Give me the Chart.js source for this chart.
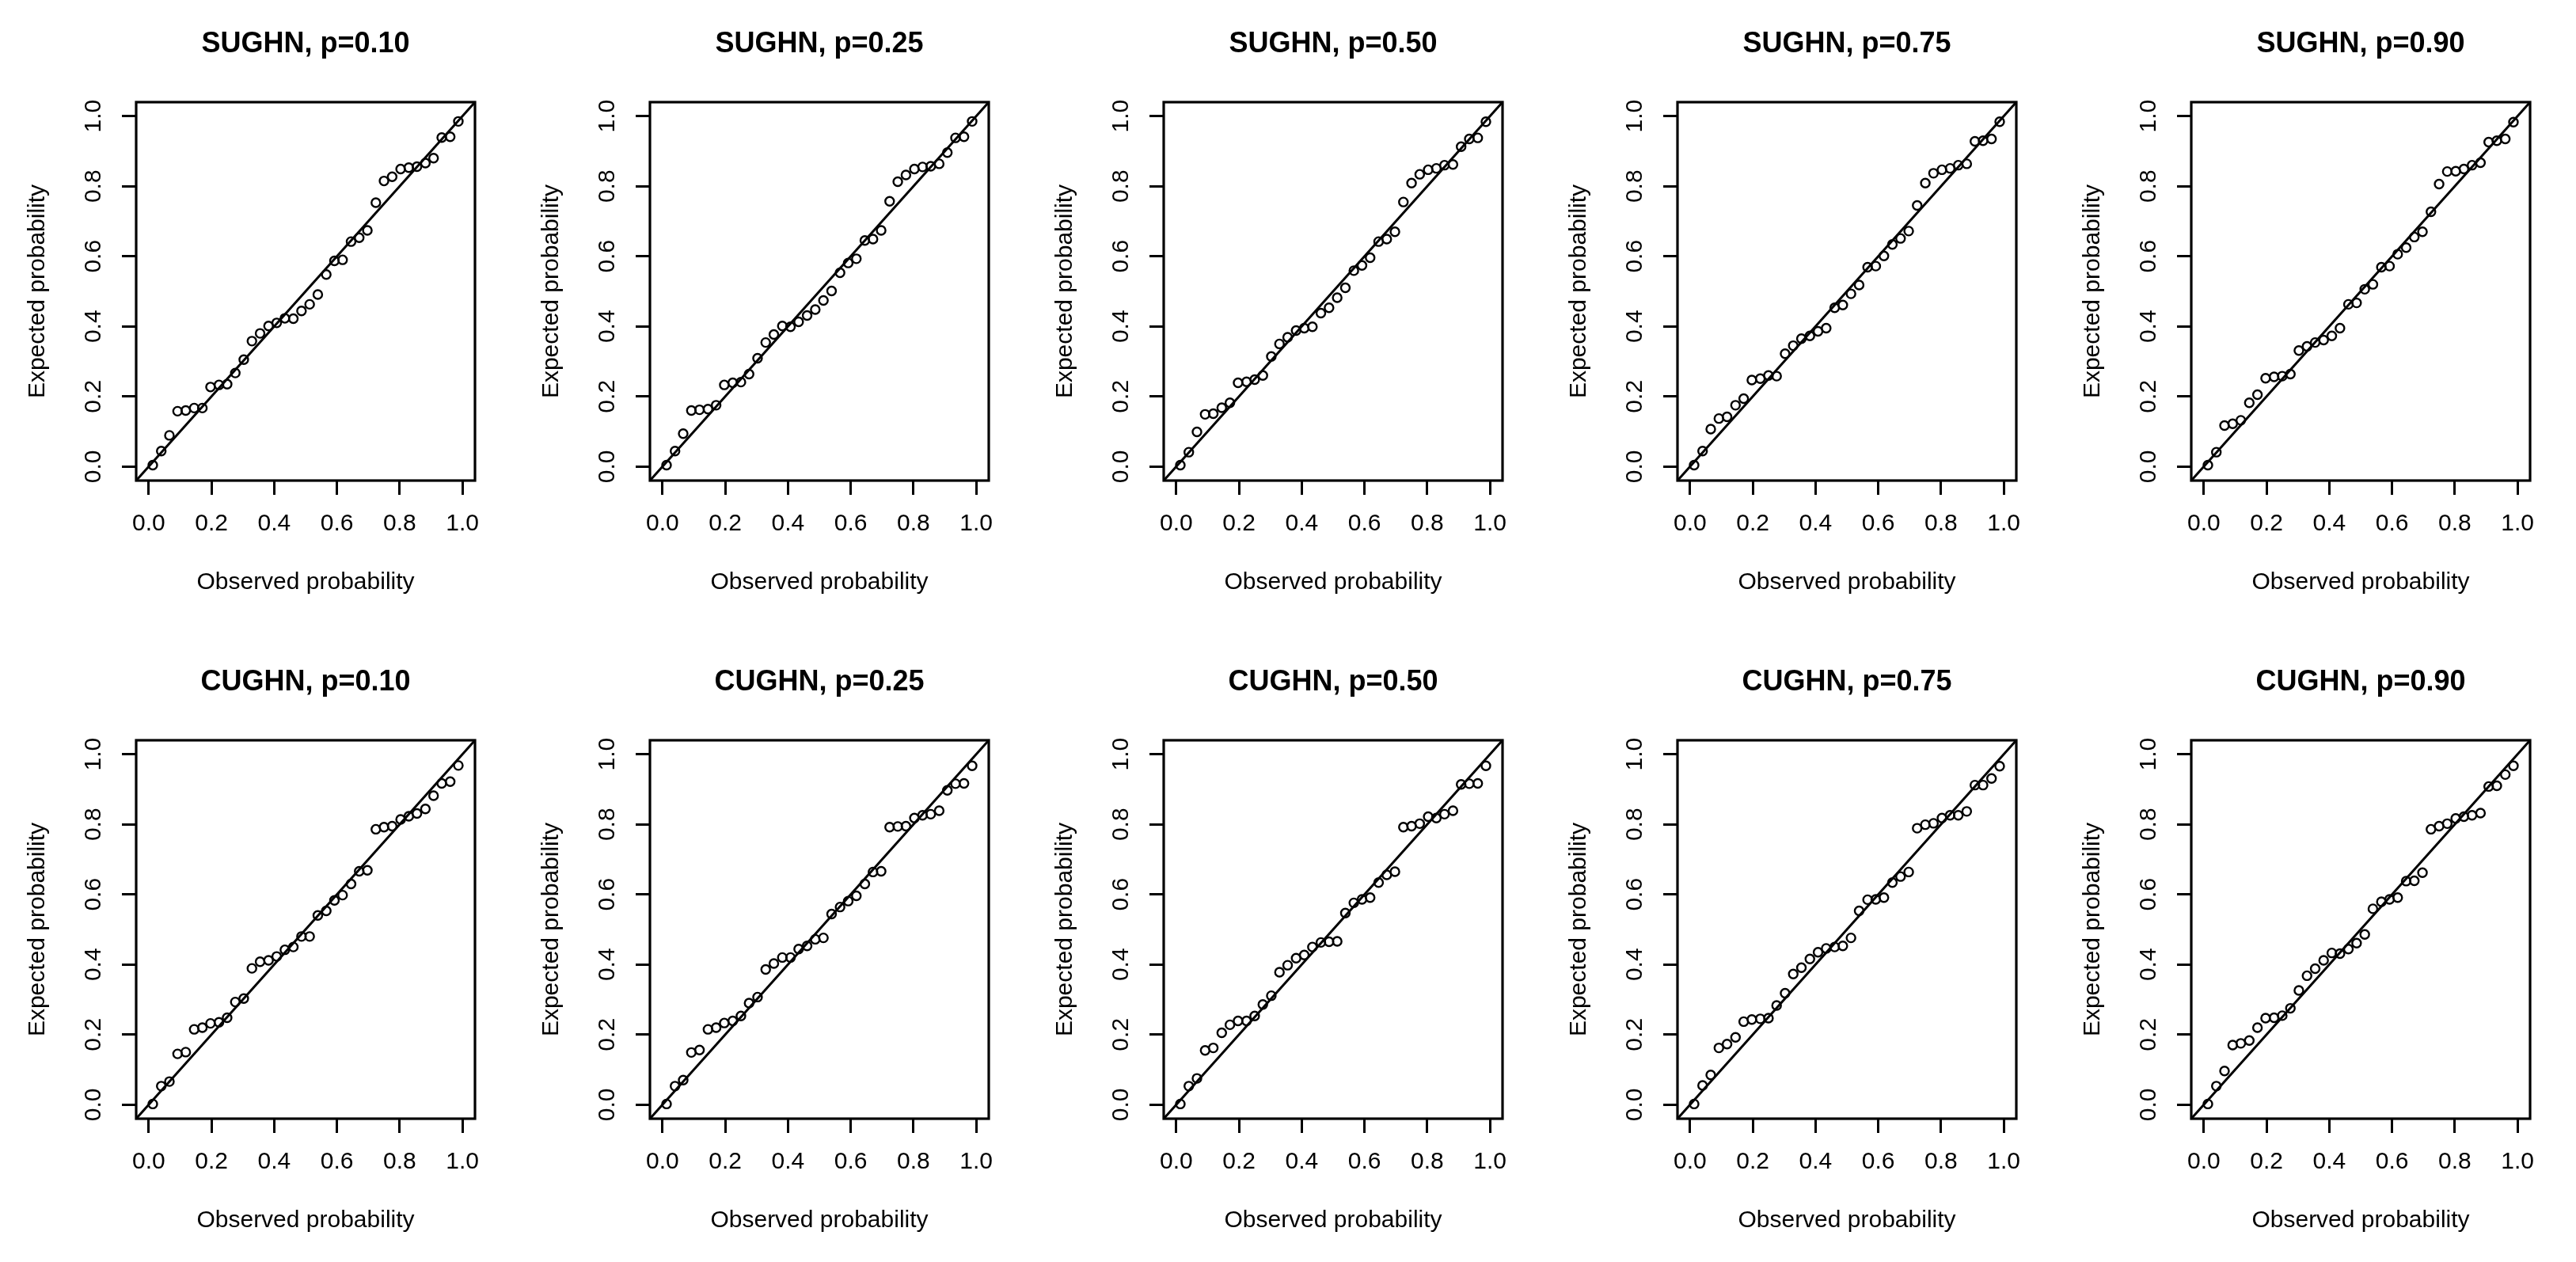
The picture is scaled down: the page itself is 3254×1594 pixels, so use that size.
<!DOCTYPE html>
<html>
<head>
<meta charset="utf-8">
<script src="https://cdn.jsdelivr.net/npm/chart.js@4.4.1/dist/chart.umd.min.js"></script>
<style>
  html, body { margin: 0; padding: 0; background: #fff; overflow: hidden; }
  body { width: 3254px; height: 1594px; position: relative; }
  canvas { position: absolute; }
</style>
</head>
<body>
<script>
// panel titles, row by row
const panelTitles = [
  'SUGHN, p=0.10', 'SUGHN, p=0.25', 'SUGHN, p=0.50', 'SUGHN, p=0.75', 'SUGHN, p=0.90',
  'CUGHN, p=0.10', 'CUGHN, p=0.25', 'CUGHN, p=0.50', 'CUGHN, p=0.75', 'CUGHN, p=0.90'
];

// observed probability (same for every panel)
const obsX = [0.013, 0.040, 0.066, 0.092, 0.118, 0.145, 0.171, 0.197, 0.224, 0.250,
  0.276, 0.303, 0.329, 0.355, 0.382, 0.408, 0.434, 0.461, 0.487, 0.513,
  0.539, 0.566, 0.592, 0.618, 0.645, 0.671, 0.697, 0.724, 0.750, 0.776,
  0.803, 0.829, 0.855, 0.882, 0.908, 0.934, 0.961, 0.987];

// expected probability, one array per panel
const sughn10 = [0.004, 0.044, 0.089, 0.158, 0.160, 0.167, 0.167, 0.227, 0.233, 0.235,
  0.267, 0.305, 0.358, 0.380, 0.401, 0.410, 0.423, 0.422, 0.444, 0.463,
  0.491, 0.548, 0.587, 0.590, 0.642, 0.653, 0.674, 0.753, 0.815, 0.827,
  0.849, 0.853, 0.856, 0.866, 0.880, 0.939, 0.941, 0.985];
const sughn25 = [0.004, 0.044, 0.094, 0.160, 0.162, 0.164, 0.175, 0.233, 0.239, 0.241,
  0.264, 0.309, 0.354, 0.377, 0.401, 0.399, 0.413, 0.431, 0.448, 0.474,
  0.501, 0.553, 0.581, 0.593, 0.645, 0.649, 0.674, 0.757, 0.813, 0.832,
  0.849, 0.855, 0.857, 0.864, 0.896, 0.938, 0.941, 0.985];
const sughn50 = [0.004, 0.041, 0.099, 0.149, 0.151, 0.168, 0.182, 0.239, 0.242, 0.248,
  0.260, 0.314, 0.350, 0.369, 0.388, 0.395, 0.399, 0.438, 0.453, 0.482,
  0.510, 0.559, 0.574, 0.596, 0.642, 0.649, 0.670, 0.755, 0.809, 0.834,
  0.847, 0.851, 0.860, 0.862, 0.913, 0.935, 0.938, 0.984];
const sughn75 = [0.004, 0.044, 0.107, 0.137, 0.142, 0.175, 0.194, 0.247, 0.251, 0.260,
  0.258, 0.322, 0.345, 0.365, 0.373, 0.386, 0.395, 0.453, 0.461, 0.493,
  0.518, 0.569, 0.572, 0.601, 0.634, 0.651, 0.672, 0.745, 0.809, 0.837,
  0.847, 0.851, 0.860, 0.864, 0.928, 0.930, 0.935, 0.984];
const sughn90 = [0.004, 0.041, 0.117, 0.122, 0.132, 0.182, 0.205, 0.252, 0.256, 0.258,
  0.264, 0.331, 0.343, 0.354, 0.361, 0.373, 0.395, 0.463, 0.467, 0.506,
  0.520, 0.569, 0.572, 0.606, 0.625, 0.655, 0.670, 0.727, 0.806, 0.842,
  0.843, 0.849, 0.860, 0.867, 0.926, 0.930, 0.935, 0.983];
const cughn10 = [0.002, 0.053, 0.066, 0.145, 0.150, 0.215, 0.220, 0.232, 0.235, 0.248,
  0.293, 0.303, 0.389, 0.408, 0.412, 0.423, 0.442, 0.450, 0.480, 0.480,
  0.540, 0.553, 0.583, 0.598, 0.630, 0.666, 0.669, 0.786, 0.792, 0.795,
  0.814, 0.823, 0.831, 0.844, 0.882, 0.917, 0.922, 0.968];
const cughn25 = [0.002, 0.053, 0.070, 0.149, 0.156, 0.215, 0.220, 0.233, 0.239, 0.253,
  0.290, 0.307, 0.386, 0.403, 0.420, 0.420, 0.444, 0.453, 0.472, 0.476,
  0.544, 0.564, 0.581, 0.596, 0.630, 0.664, 0.666, 0.792, 0.794, 0.795,
  0.818, 0.826, 0.829, 0.839, 0.897, 0.916, 0.917, 0.967];
const cughn50 = [0.002, 0.053, 0.075, 0.155, 0.162, 0.205, 0.228, 0.239, 0.239, 0.253,
  0.286, 0.311, 0.378, 0.398, 0.418, 0.427, 0.450, 0.463, 0.465, 0.466,
  0.547, 0.576, 0.586, 0.591, 0.634, 0.656, 0.665, 0.792, 0.795, 0.802,
  0.822, 0.818, 0.829, 0.839, 0.914, 0.916, 0.917, 0.967];
const cughn75 = [0.002, 0.055, 0.085, 0.162, 0.173, 0.192, 0.237, 0.243, 0.245, 0.247,
  0.283, 0.318, 0.373, 0.391, 0.416, 0.435, 0.446, 0.450, 0.453, 0.476,
  0.553, 0.585, 0.586, 0.591, 0.634, 0.651, 0.664, 0.789, 0.799, 0.803,
  0.818, 0.826, 0.826, 0.837, 0.912, 0.912, 0.931, 0.966];
const cughn90 = [0.002, 0.053, 0.096, 0.170, 0.175, 0.183, 0.220, 0.247, 0.248, 0.254,
  0.275, 0.326, 0.368, 0.388, 0.412, 0.433, 0.431, 0.444, 0.461, 0.486,
  0.559, 0.579, 0.586, 0.591, 0.638, 0.639, 0.662, 0.786, 0.795, 0.802,
  0.817, 0.822, 0.826, 0.832, 0.908, 0.910, 0.942, 0.967];

const panelValues = [sughn10, sughn25, sughn50, sughn75, sughn90,
                     cughn10, cughn25, cughn50, cughn75, cughn90];

const tickValues = [0, 0.2, 0.4, 0.6, 0.8, 1.0];
const tickLabels = ['0.0', '0.2', '0.4', '0.6', '0.8', '1.0'];
const axisMin = -0.04, axisMax = 1.04;

// layout of the 2x5 grid (plot box corners in page pixels)
const colLeft = [172, 821, 1470, 2119, 2768];
const rowTop = [129, 935];
const plotW = 428, plotH = 478;
const padLeft = 172, padTop = 129, padRight = 48, padBottom = 168;

Chart.defaults.font.family = "'Liberation Sans', Arial, Helvetica, sans-serif";
Chart.defaults.color = '#000';

const boxPlugin = {
  id: 'plotBox',
  afterDraw(chart) {
    const a = chart.chartArea;
    const ctx = chart.ctx;
    ctx.save();
    ctx.strokeStyle = '#000';
    ctx.lineWidth = 3.2;
    ctx.strokeRect(a.left, a.top, a.right - a.left, a.bottom - a.top);
    ctx.restore();
  }
};

function setTicks(scale) {
  scale.ticks = tickValues.map(v => ({ value: v }));
}

function axisOpts(isY, titleText) {
  return {
    type: 'linear',
    position: isY ? 'left' : 'bottom',
    min: axisMin,
    max: axisMax,
    afterBuildTicks: setTicks,
    afterFit: function (scale) {
      if (isY) scale.width = padLeft; else scale.height = padBottom;
    },
    border: { display: false },
    grid: {
      drawOnChartArea: false,
      drawTicks: true,
      tickLength: 18,
      tickWidth: 3,
      tickColor: '#000'
    },
    ticks: {
      autoSkip: false,
      font: { size: 30, lineHeight: 1 },
      color: '#000',
      padding: isY ? 14 : 22,
      minRotation: isY ? 90 : 0,
      maxRotation: isY ? 90 : 0,
      crossAlign: isY ? 'center' : 'near',
      callback: function (v) {
        const k = tickValues.indexOf(v);
        return k >= 0 ? tickLabels[k] : '';
      }
    },
    title: {
      display: true,
      text: titleText,
      color: '#000',
      font: { size: 30, lineHeight: 1 },
      padding: isY ? { top: 33, bottom: 0 } : { top: 0, bottom: 24 }
    }
  };
}

panelValues.forEach(function (vals, i) {
  const col = i % 5, row = Math.floor(i / 5);
  const canvas = document.createElement('canvas');
  const w = padLeft + plotW + padRight;
  const h = padTop + plotH + padBottom;
  canvas.width = w;
  canvas.height = h;
  canvas.style.left = (colLeft[col] - padLeft) + 'px';
  canvas.style.top = (rowTop[row] - padTop) + 'px';
  canvas.style.width = w + 'px';
  canvas.style.height = h + 'px';
  document.body.appendChild(canvas);

  const points = obsX.map((x, k) => ({ x: x, y: vals[k] }));

  new Chart(canvas, {
    type: 'scatter',
    data: {
      datasets: [
        {
          type: 'line',
          data: [{ x: axisMin, y: axisMin }, { x: axisMax, y: axisMax }],
          borderColor: '#000',
          borderWidth: 3,
          pointRadius: 0,
          fill: false,
          tension: 0
        },
        {
          data: points,
          pointStyle: 'circle',
          pointRadius: 5.5,
          pointBorderWidth: 2.4,
          pointBorderColor: '#000',
          pointBackgroundColor: 'rgba(0,0,0,0)',
          showLine: false
        }
      ]
    },
    options: {
      responsive: false,
      devicePixelRatio: 1,
      animation: false,
      events: [],
      layout: { padding: { left: 0, top: 0, right: padRight, bottom: 0 } },
      plugins: {
        legend: { display: false },
        tooltip: { enabled: false },
        title: {
          display: true,
          text: panelTitles[i],
          fullSize: false,
          color: '#000',
          font: { size: 36, weight: 'bold', lineHeight: 1 },
          padding: { top: 38, bottom: 55 }
        }
      },
      scales: {
        x: axisOpts(false, 'Observed probability'),
        y: axisOpts(true, 'Expected probability')
      }
    },
    plugins: [boxPlugin]
  });
});
</script>
</body>
</html>
